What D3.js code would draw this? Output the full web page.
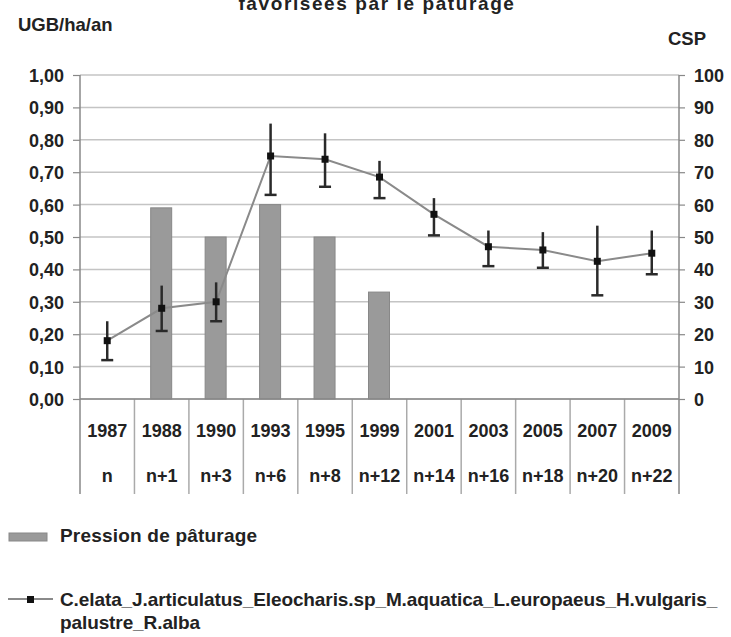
<!DOCTYPE html>
<html><head><meta charset="utf-8">
<script src="https://cdn.jsdelivr.net/npm/d3@7"></script>
<style>body{margin:0;background:#fff;} text{font-family:"Liberation Sans",Arial,sans-serif;}</style>
</head><body>
<svg id="c" width="731" height="637"></svg>
<script>
const years = ["1987","1988","1990","1993","1995","1999","2001","2003","2005","2007","2009"];
const relYears = ["n","n+1","n+3","n+6","n+8","n+12","n+14","n+16","n+18","n+20","n+22"];
const pression = [null,0.59,0.50,0.60,0.50,0.33,null,null,null,null,null];
const csp = [18,28,30,75,74,68.5,57,47,46,42.5,45];
const cspHigh = [24,35,36,85,82,73.5,62,52,51.5,53.5,52];
const cspLow = [12,21,24,63,65.5,62,50.5,41,40.5,32,38.5];
const leftTicks = [0,0.1,0.2,0.3,0.4,0.5,0.6,0.7,0.8,0.9,1.0];
const rightTicks = [0,10,20,30,40,50,60,70,80,90,100];

const svg = d3.select("#c");
const L = 80, R = 679, T = 75, B = 399;
const x = d3.scaleBand().domain(years).range([L, R]);
const yL = d3.scaleLinear().domain([0,1]).range([B, T]);
const yR = d3.scaleLinear().domain([0,100]).range([B, T]);
const txt = "#222";

// title (clipped at top, as in the reference)
svg.append("text").attr("x", 377).attr("y", 10).attr("text-anchor","middle")
  .attr("font-size",19).attr("font-weight","bold").attr("letter-spacing","1.6")
  .attr("fill",txt).text("favorisées par le pâturage");
svg.append("text").attr("x", 18).attr("y", 31).attr("font-size",18.5).attr("fill",txt)
  .attr("font-weight","bold").text("UGB/ha/an");
svg.append("text").attr("x", 668).attr("y", 45).attr("font-size",18.5).attr("fill",txt)
  .attr("font-weight","bold").text("CSP");

// gridlines
svg.append("g").selectAll("line").data(leftTicks).join("line")
  .attr("x1", L).attr("x2", R).attr("y1", d=>yL(d)).attr("y2", d=>yL(d))
  .attr("stroke","#c4c4c4").attr("stroke-width",1.5);

// axes
const axL = d3.axisLeft(yL).tickValues(leftTicks).tickSize(7).tickFormat(d=>d3.format(".2f")(d).replace(".",","));
const gL = svg.append("g").attr("transform",`translate(${L},0)`).call(axL);
const axR = d3.axisRight(yR).tickValues(rightTicks).tickSize(6).tickFormat(d3.format("d"));
const gR = svg.append("g").attr("transform",`translate(${R},0)`).call(axR);
[gL,gR].forEach(g=>{
  g.select(".domain").remove();
  g.selectAll(".tick line").attr("stroke","#888").attr("stroke-width",1.2);
  g.selectAll(".tick text").attr("font-size",18).attr("font-weight","bold").attr("fill",txt)
    .attr("font-family","Liberation Sans, Arial, sans-serif");
});
gL.selectAll(".tick text").attr("x",-16).attr("dy","0.36em");
gR.selectAll(".tick text").attr("x",15).attr("dy","0.36em");

// bars
svg.append("g").selectAll("rect").data(years.map((y,i)=>({y, v:pression[i]})).filter(d=>d.v!=null)).join("rect")
  .attr("x", d=>x(d.y)+x.bandwidth()/2-11).attr("width",21)
  .attr("y", d=>yL(d.v)).attr("height", d=>B-yL(d.v))
  .attr("fill","#9a9a9a").attr("stroke","#888").attr("stroke-width",1);

// table frame lines
const bounds = d3.range(years.length+1).map(i=> L + i*x.step());
svg.append("g").selectAll("line").data(bounds).join("line")
  .attr("x1",d=>d).attr("x2",d=>d).attr("y1",B).attr("y2",494)
  .attr("stroke",(d,i)=> (i===0||i===years.length)?"#888":"#aaa").attr("stroke-width",1.5);
svg.append("line").attr("x1",L).attr("x2",L).attr("y1",T).attr("y2",B).attr("stroke","#888").attr("stroke-width",1.5);
svg.append("line").attr("x1",R).attr("x2",R).attr("y1",T).attr("y2",B).attr("stroke","#888").attr("stroke-width",1.5);
svg.append("line").attr("x1",L).attr("x2",R).attr("y1",B).attr("y2",B).attr("stroke","#888").attr("stroke-width",1.5);

// category labels
svg.append("g").selectAll("text").data(years).join("text")
  .attr("x", d=>x(d)+x.bandwidth()/2).attr("y",437).attr("text-anchor","middle")
  .attr("font-size",18).attr("font-weight","bold").attr("fill",txt).text(d=>d);
svg.append("g").selectAll("text").data(relYears).join("text")
  .attr("x", (d,i)=>x(years[i])+x.bandwidth()/2).attr("y",482).attr("text-anchor","middle")
  .attr("font-size",18).attr("font-weight","bold").attr("fill",txt).text(d=>d);

// line
const pts = years.map((y,i)=>({y, v:csp[i], hi:cspHigh[i], lo:cspLow[i]}));
const cx = d=>x(d.y)+x.bandwidth()/2;
svg.append("path").datum(pts)
  .attr("d", d3.line().x(cx).y(d=>yR(d.v)))
  .attr("fill","none").attr("stroke","#8a8a8a").attr("stroke-width",2);
const eb = svg.append("g");
eb.selectAll("line.v").data(pts).join("line").attr("class","v")
  .attr("x1",cx).attr("x2",cx).attr("y1",d=>yR(d.hi)).attr("y2",d=>yR(d.lo))
  .attr("stroke","#2a2a2a").attr("stroke-width",2.5);
eb.selectAll("line.c").data(pts).join("line").attr("class","c")
  .attr("x1",d=>cx(d)-6).attr("x2",d=>cx(d)+6).attr("y1",d=>yR(d.lo)).attr("y2",d=>yR(d.lo))
  .attr("stroke","#2a2a2a").attr("stroke-width",2.5);
eb.selectAll("rect").data(pts).join("rect")
  .attr("x",d=>cx(d)-3.5).attr("y",d=>yR(d.v)-3.5).attr("width",7).attr("height",7).attr("fill","#111");

// legend
svg.append("rect").attr("x",9).attr("y",533).attr("width",38).attr("height",8).attr("fill","#9a9a9a").attr("stroke","#888");
svg.append("text").attr("x",60).attr("y",542).attr("font-size",19).attr("font-weight","bold").attr("fill",txt)
  .attr("letter-spacing","0.2").text("Pression de pâturage");
svg.append("line").attr("x1",8).attr("x2",53).attr("y1",599).attr("y2",599).attr("stroke","#8a8a8a").attr("stroke-width",2);
svg.append("rect").attr("x",27).attr("y",596).attr("width",7).attr("height",7).attr("fill","#111");
svg.append("text").attr("x",60).attr("y",606).attr("font-size",19).attr("font-weight","bold").attr("fill",txt)
  .attr("letter-spacing","-0.1").text("C.elata_J.articulatus_Eleocharis.sp_M.aquatica_L.europaeus_H.vulgaris_");
svg.append("text").attr("x",60).attr("y",629).attr("font-size",19).attr("font-weight","bold").attr("fill",txt)
  .attr("letter-spacing","-0.1").text("palustre_R.alba");
</script>
</body></html>
